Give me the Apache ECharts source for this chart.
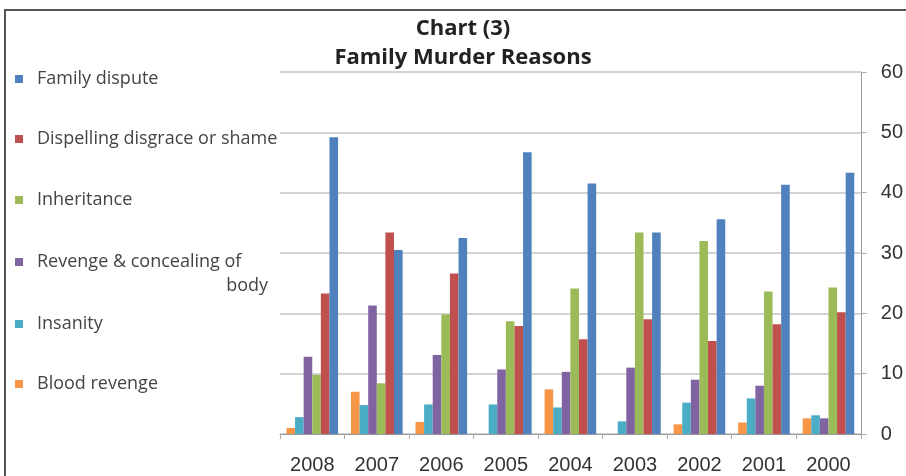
<!DOCTYPE html>
<html>
<head>
<meta charset="utf-8">
<script src="https://cdn.jsdelivr.net/npm/echarts@6/dist/echarts.min.js"></script>
<style>
html, body { margin: 0; padding: 0; background: #fff; }
#chart { width: 906px; height: 476px; }
</style>
</head>
<body>
<div id="chart"></div>
<script>
const years = ['2008', '2007', '2006', '2005', '2004', '2003', '2002', '2001', '2000']
const familyDispute = [49.2, 30.5, 32.5, 46.7, 41.5, 33.4, 35.6, 41.3, 43.3]
const dispelling = [23.3, 33.4, 26.6, 17.9, 15.7, 19.0, 15.4, 18.2, 20.2]
const inheritance = [9.8, 8.4, 19.8, 18.7, 24.1, 33.4, 32.0, 23.6, 24.3]
const revenge = [12.8, 21.3, 13.1, 10.7, 10.3, 11.0, 9.0, 8.0, 2.6]
const insanity = [2.8, 4.8, 4.9, 4.9, 4.4, 2.1, 5.2, 5.9, 3.1]
const bloodRevenge = [1.0, 7.0, 2.0, 0, 7.4, 0, 1.6, 1.9, 2.6]
const yTicks = [0, 10, 20, 30, 40, 50, 60]

// left-to-right order inside each year group
const seriesList = [
    { name: 'Blood revenge', data: bloodRevenge, color: '#F79646' },
    { name: 'Insanity', data: insanity, color: '#4BACC6' },
    { name: 'Revenge & concealing of body', data: revenge, color: '#8064A2' },
    { name: 'Inheritance', data: inheritance, color: '#9BBB59' },
    { name: 'Dispelling disgrace or shame', data: dispelling, color: '#C0504D' },
    { name: 'Family dispute', data: familyDispute, color: '#4F81BD' }
]

// legend rows, top to bottom (text centre y)
const legendRows = [
    ['Family dispute', 77],
    ['Dispelling disgrace or shame', 137],
    ['Inheritance', 198],
    ['Revenge & concealing of body', 260],
    ['Insanity', 322],
    ['Blood revenge', 382]
]

const font = 'Open Sans'
const axisFont = 'Liberation Sans'

const option = {
    animation: false,
    title: [
        {
            text: 'Chart (3)',
            left: 458, top: 13, textAlign: 'center',
            textStyle: { fontFamily: font, fontSize: 22, fontWeight: 'bold', color: '#222' }
        },
        {
            text: 'Family Murder Reasons',
            left: 458, top: 42, textAlign: 'center',
            textStyle: { fontFamily: font, fontSize: 22, fontWeight: 'bold', color: '#222' }
        }
    ],
    legend: legendRows.map(function (row) {
        return {
            data: [row[0]],
            left: 10,
            top: row[1] - 14,
            icon: 'rect',
            itemWidth: 8,
            itemHeight: 8,
            formatter: function (name) {
                return name === 'Revenge & concealing of body' ? 'Revenge & concealing of' : name
            },
            textStyle: {
                fontFamily: font, fontSize: 18, color: '#444',
                lineHeight: 22, padding: [0, 0, 0, 9]
            },
            selectedMode: false
        }
    }),
    graphic: [
        {
            type: 'rect',
            shape: { x: 5, y: 10, width: 1000, height: 1000 },
            style: { fill: 'none', stroke: '#555', lineWidth: 2 },
            silent: true
        },
        {
            type: 'text',
            x: 268, y: 286,
            style: {
                text: 'body', fontFamily: font, fontSize: 18, fill: '#444',
                align: 'right', verticalAlign: 'middle'
            }
        }
    ],
    grid: { left: 280, right: 45, top: 72, bottom: 42 },
    xAxis: {
        type: 'category',
        data: years,
        axisLine: { lineStyle: { color: '#999' } },
        axisTick: { show: true, length: 5, lineStyle: { color: '#aaa' } },
        axisLabel: { margin: 21, fontFamily: axisFont, fontSize: 20, color: '#333' }
    },
    yAxis: {
        type: 'value',
        position: 'right',
        min: 0, max: 60, interval: 10,
        axisLine: { show: true, lineStyle: { color: '#999' } },
        axisTick: { show: true, length: 6, lineStyle: { color: '#aaa' } },
        splitLine: { lineStyle: { color: '#c4c4c4', width: 1.5 } },
        axisLabel: {
            margin: 20, fontFamily: axisFont, fontSize: 20, color: '#333',
            formatter: function (v) { return yTicks.indexOf(v) >= 0 ? String(v) : '' }
        }
    },
    series: seriesList.map(function (s) {
        return {
            name: s.name,
            type: 'bar',
            data: s.data,
            barGap: '0%',
            barCategoryGap: '20%',
            itemStyle: { color: s.color }
        }
    })
}

const myChart = echarts.init(document.getElementById('chart'))
myChart.setOption(option)
</script>
</body>
</html>
